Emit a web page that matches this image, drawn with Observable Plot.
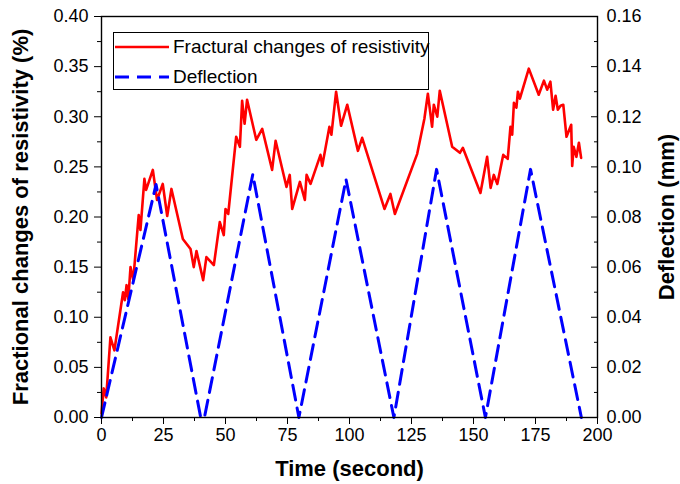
<!DOCTYPE html>
<html>
<head>
<meta charset="utf-8">
<script src="https://cdn.jsdelivr.net/npm/d3@7"></script>
<script src="https://cdn.jsdelivr.net/npm/@observablehq/plot@0.6"></script>
<style>
  body { margin: 0; background: #fff; }
  #wrap { position: relative; width: 680px; height: 484px; font-family: "Liberation Sans", Arial, sans-serif; }
  #wrap svg { font-family: "Liberation Sans", Arial, sans-serif; }
  [aria-label$="axis label"] text { font-weight: bold; font-size: 22px; }
  #legend { position: absolute; left: 113px; top: 32px; width: 316px; height: 58px; border: 1px solid #000; background: #fff; box-sizing: border-box; }
  #legend .row { position: absolute; left: 0; height: 28px; display: flex; align-items: center; font-size: 19px; color: #000; white-space: nowrap; }
</style>
</head>
<body>
<div id="wrap"><div id="legend"></div></div>
<script>
// Fractional changes of resistivity (%) vs time (s)
const resTime = [0,0.9,1.9,3.6,5.2,8.7,9.4,10.1,10.8,11.7,12.8,15.0,15.7,17.3,18.0,20.7,22.4,24.7,26.5,28.2,32.8,35.9,37.2,38.3,41.0,42.3,45.3,47.7,49.3,50.0,51.1,54.3,55.8,56.7,57.7,58.7,62.4,64.8,68.8,70.2,74.6,75.9,76.9,80.0,82.0,82.7,84.3,88.3,89.0,91.9,92.7,94.6,96.6,99.1,103.4,105.1,114.1,116.5,118.3,127.3,130.2,131.6,133.3,134.0,135.4,136.4,141.4,144.5,145.7,152.8,155.5,156.9,158.2,159.6,162.0,163.8,164.9,165.6,166.3,167.3,167.9,168.7,172.3,176.3,178.4,179.7,181.0,182.1,183.1,184.0,185.1,186.2,187.5,189.4,189.8,190.4,191.5,192.5,193.4];
const resValue = [0.004,0.029,0.020,0.080,0.067,0.125,0.117,0.132,0.118,0.150,0.137,0.202,0.187,0.238,0.227,0.247,0.217,0.233,0.201,0.228,0.178,0.168,0.150,0.166,0.137,0.160,0.152,0.195,0.182,0.208,0.203,0.280,0.270,0.316,0.293,0.317,0.277,0.288,0.247,0.276,0.230,0.242,0.208,0.235,0.217,0.242,0.233,0.262,0.251,0.290,0.282,0.325,0.291,0.312,0.266,0.279,0.208,0.223,0.203,0.263,0.298,0.323,0.290,0.312,0.300,0.326,0.270,0.264,0.269,0.224,0.260,0.229,0.242,0.233,0.262,0.258,0.290,0.282,0.314,0.309,0.325,0.318,0.348,0.322,0.336,0.327,0.335,0.307,0.321,0.307,0.311,0.312,0.280,0.292,0.251,0.270,0.260,0.274,0.259];

// Deflection (mm) vs time (s)
const defTime = [0,22,40,41.5,61,79.6,98.6,117.9,135.1,154.8,173,193.5];
const defValue = [0,0.093,0,0,0.097,0,0.095,0,0.099,0,0.099,0];

const xTicks = [0,25,50,75,100,125,150,175,200];
const xMinor = [12.5,37.5,62.5,87.5,112.5,137.5,162.5,187.5];
const yLeftTicks = [0,0.05,0.10,0.15,0.20,0.25,0.30,0.35,0.40];
const yLeftMinor = [0.025,0.075,0.125,0.175,0.225,0.275,0.325,0.375];
const yRightTicks = [0,0.02,0.04,0.06,0.08,0.10,0.12,0.14,0.16];
const yRightMinor = [0.01,0.03,0.05,0.07,0.09,0.11,0.13,0.15];

const seriesNames = ["Fractural changes of resistivity", "Deflection"];
const seriesColors = ["#ff0000", "#0000ff"];

const ratio = 0.40 / 0.16; // right axis -> left axis

const resData = resTime.map((t, i) => ({t, v: resValue[i]}));
const defData = defTime.map((t, i) => ({t, v: defValue[i]}));
const empty = () => "";

const chart = Plot.plot({
  width: 680,
  height: 484,
  marginLeft: 101,
  marginRight: 83,
  marginTop: 16,
  marginBottom: 67,
  style: {fontSize: "18px", color: "#000", background: "transparent"},
  x: {domain: [0, 200]},
  y: {domain: [0, 0.40]},
  marks: [
    Plot.line(resData, {x: "t", y: "v", stroke: seriesColors[0], strokeWidth: 2.6}),
    Plot.line(defData, {x: "t", y: d => d.v * ratio, stroke: seriesColors[1], strokeWidth: 3, strokeDasharray: "15,8"}),
    Plot.frame({stroke: "#000", strokeWidth: 1.4}),
    Plot.axisX(xTicks, {tickSize: 7, tickPadding: 4, tickFormat: d => String(d), label: "Time (second)", labelAnchor: "center", labelArrow: "none", labelOffset: 58}),
    Plot.axisX(xMinor, {tickSize: 4, tickFormat: empty, label: null}),
    Plot.axisY(yLeftTicks, {tickSize: 7, tickPadding: 6, tickFormat: d => d.toFixed(2), label: "Fractional changes of resistivity (%)", labelAnchor: "center", labelArrow: "none", labelOffset: 89}),
    Plot.axisY(yLeftMinor, {tickSize: 4, tickFormat: empty, label: null}),
    Plot.axisY(yRightTicks, {anchor: "right", y: d => d * ratio, tickSize: 7, dx: -7, tickFormat: empty, label: null}),
    Plot.axisY(yRightMinor, {anchor: "right", y: d => d * ratio, tickSize: 4, dx: -4, tickFormat: empty, label: null}),
    Plot.axisY(yRightTicks, {anchor: "right", y: d => d * ratio, tickSize: 0, tickPadding: 9, tickFormat: d => d.toFixed(2), label: "Deflection (mm)", labelAnchor: "center", labelArrow: "none", labelOffset: 76})
  ]
});
document.getElementById("wrap").prepend(chart);

// legend
const legend = document.getElementById("legend");
seriesNames.forEach((name, i) => {
  const row = document.createElement("div");
  row.className = "row";
  row.style.top = (i === 0 ? 0 : 30) + "px";
  const dash = i === 0 ? "" : ' stroke-dasharray="14,8"';
  row.innerHTML = `<svg width="54" height="10" style="margin-left:1px"><line x1="0" y1="5" x2="54" y2="5" stroke="${seriesColors[i]}" stroke-width="${i === 0 ? 2.6 : 3}"${dash}/></svg><span style="margin-left:4px">${name}</span>`;
  legend.appendChild(row);
});
</script>
</body>
</html>
